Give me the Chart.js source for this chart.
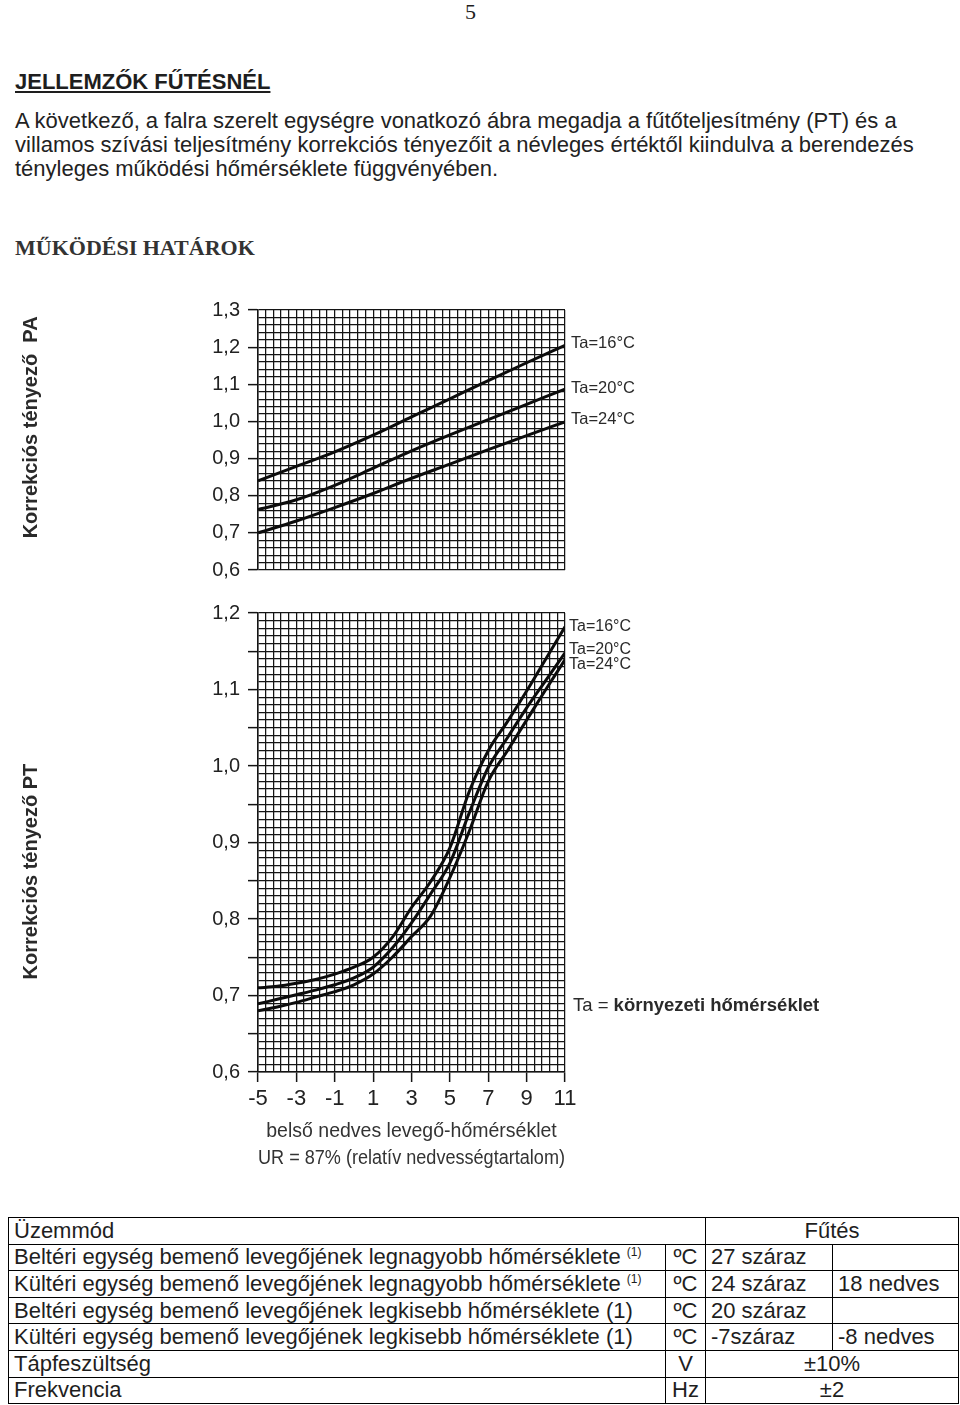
<!DOCTYPE html>
<html><head><meta charset="utf-8">
<script src="https://cdn.jsdelivr.net/npm/chart.js@4.4.0/dist/chart.umd.min.js"></script>
<style>
html,body{margin:0;padding:0;background:#fff;}
#page{position:relative;width:960px;height:1405px;overflow:hidden;font-family:"Liberation Sans",Arial,sans-serif;color:#1e1e1e;}
.abs{position:absolute;white-space:nowrap;}
#pnum{left:465px;top:0px;font-family:"Liberation Serif",serif;font-size:22px;line-height:24px;}
#h1{left:15px;top:70px;font-weight:bold;font-size:22px;line-height:24px;text-decoration:underline;}
#para{left:15px;top:109px;font-size:22px;line-height:24px;color:#222;}
#h2{left:15px;top:236px;font-family:"Liberation Serif",serif;font-weight:bold;font-size:22px;line-height:24px;color:#333;}
#c1{position:absolute;left:0;top:290px;}
#c2{position:absolute;left:0;top:590px;}
#tbl{position:absolute;left:8px;top:1217px;border-collapse:collapse;table-layout:fixed;font-size:22px;color:#1e1e1e;}
#tbl td{border:1px solid #000;height:25.6px;padding:0 5px;white-space:nowrap;line-height:22px;}
#tbl td.c{text-align:center;padding:0;}
#tbl sup{font-size:12px;vertical-align:8px;line-height:0;}
</style>
</head><body>
<div id="page">
  <div id="pnum" class="abs">5</div>
  <div id="h1" class="abs">JELLEMZŐK FŰTÉSNÉL</div>
  <div id="para" class="abs">A következő, a falra szerelt egységre vonatkozó ábra megadja a fűtőteljesítmény (PT) és a<br>villamos szívási teljesítmény korrekciós tényezőit a névleges értéktől kiindulva a berendezés<br>tényleges működési hőmérséklete függvényében.</div>
  <div id="h2" class="abs">MŰKÖDÉSI HATÁROK</div>
  <canvas id="c1" width="960" height="300"></canvas>
  <canvas id="c2" width="960" height="590"></canvas>
  <table id="tbl">
    <colgroup><col style="width:657px"><col style="width:40px"><col style="width:127px"><col style="width:126px"></colgroup>
    <tr><td colspan="2">Üzemmód</td><td colspan="2" class="c">Fűtés</td></tr>
    <tr><td>Beltéri egység bemenő levegőjének legnagyobb hőmérséklete <sup>(1)</sup></td><td class="c">ºC</td><td>27 száraz</td><td></td></tr>
    <tr><td>Kültéri egység bemenő levegőjének legnagyobb hőmérséklete <sup>(1)</sup></td><td class="c">ºC</td><td>24 száraz</td><td>18 nedves</td></tr>
    <tr><td>Beltéri egység bemenő levegőjének legkisebb hőmérséklete (1)</td><td class="c">ºC</td><td>20 száraz</td><td></td></tr>
    <tr><td>Kültéri egység bemenő levegőjének legkisebb hőmérséklete (1)</td><td class="c">ºC</td><td>-7száraz</td><td>-8 nedves</td></tr>
    <tr><td>Tápfeszültség</td><td class="c">V</td><td colspan="2" class="c">±10%</td></tr>
    <tr><td>Frekvencia</td><td class="c">Hz</td><td colspan="2" class="c">±2</td></tr>
  </table>
</div>
<script>
// ---------- data ----------
const seriesNames = ['Ta=16°C', 'Ta=20°C', 'Ta=24°C'];

// top chart: PA correction factor
const topX   = [-5, -3, -1, 1, 3, 5, 7, 9, 11];
const paTa16 = [0.840, 0.879, 0.918, 0.963, 1.012, 1.061, 1.110, 1.158, 1.205];
const paTa20 = [0.763, 0.789, 0.828, 0.874, 0.921, 0.964, 1.005, 1.046, 1.087];
const paTa24 = [0.700, 0.732, 0.768, 0.806, 0.847, 0.885, 0.924, 0.962, 0.999];
const topLabelY = [1.211, 1.088, 1.004];

// bottom chart: PT correction factor
const botX   = [-5, -4, -3, -2, -1, 0, 1, 2, 3, 4, 5, 6, 7, 8, 9, 10, 11];
const ptTa16 = [0.710, 0.712, 0.716, 0.721, 0.728, 0.737, 0.750, 0.776, 0.815, 0.849, 0.893, 0.966, 1.020, 1.058, 1.098, 1.140, 1.182];
const ptTa20 = [0.689, 0.695, 0.701, 0.707, 0.714, 0.723, 0.737, 0.762, 0.795, 0.833, 0.873, 0.938, 0.998, 1.037, 1.076, 1.112, 1.148];
const ptTa24 = [0.680, 0.685, 0.691, 0.698, 0.705, 0.714, 0.728, 0.750, 0.777, 0.804, 0.854, 0.914, 0.980, 1.020, 1.060, 1.100, 1.139];
const botLabelY = [1.182, 1.152, 1.132];

// tick labels
const xTickLabels = [-5, -3, -1, 1, 3, 5, 7, 9, 11];
const topYTickLabels = [0.6, 0.7, 0.8, 0.9, 1.0, 1.1, 1.2, 1.3];
const botYTickLabels = [0.6, 0.7, 0.8, 0.9, 1.0, 1.1, 1.2];
const botYTickMarks = [0.6, 0.65, 0.7, 0.75, 0.8, 0.85, 0.9, 0.95, 1.0, 1.05, 1.1, 1.15, 1.2];

const topYTitle = 'Korrekciós tényező  PA';
const botYTitle = 'Korrekciós tényező PT';
const xTitle = ['belső nedves levegő-hőmérséklet', 'UR = 87% (relatív nedvességtartalom)'];
const noteLabel = ['Ta = ', 'környezeti hőmérséklet'];

// ---------- helpers ----------
const inList = (v, list) => list.some(t => Math.abs(t - v) < 1e-6);
const fmtDec = v => v.toFixed(1).replace('.', ',');
const GRID = '#141414';
const TXT = '#222';
const FONT = '"Liberation Sans", Arial, sans-serif';

function mkData(xs, ys) { return xs.map((x, i) => ({x: x, y: ys[i]})); }
function mkSet(xs, ys, name) {
  return {label: name, data: mkData(xs, ys), borderColor: '#0c0c0c', borderWidth: 3,
          pointRadius: 0, fill: false, cubicInterpolationMode: 'monotone'};
}

const sidePlugin = {
  id: 'sideLabels',
  afterDraw(chart, args, o) {
    const {ctx, chartArea, scales} = chart;
    ctx.save();
    ctx.fillStyle = '#2a2a2a';
    ctx.textAlign = 'left';
    ctx.textBaseline = 'middle';
    ctx.font = o.labelSize + 'px ' + FONT;
    o.labels.forEach((t, i) => {
      ctx.fillText(t, chartArea.right + o.dx, scales.y.getPixelForValue(o.labelY[i]));
    });
    if (o.note) {
      const yy = scales.y.getPixelForValue(o.noteY);
      const x0 = chartArea.right + 8;
      ctx.font = '18.5px ' + FONT;
      ctx.fillText(o.note[0], x0, yy);
      const w = ctx.measureText(o.note[0]).width;
      ctx.font = 'bold 18.5px ' + FONT;
      ctx.fillText(o.note[1], x0 + w, yy);
    }
    // rotated y title
    ctx.font = 'bold 20px ' + FONT;
    ctx.fillStyle = '#2a2a2a';
    ctx.textAlign = 'center';
    ctx.translate(scales.y.left + 11, scales.y.getPixelForValue(o.titleY));
    ctx.rotate(-Math.PI / 2);
    ctx.fillText(o.title, 0, 0);
    ctx.restore();
  }
};

const common = {
  responsive: false, animation: false, maintainAspectRatio: false,
  events: [],
};

// ---------- top chart ----------
new Chart(document.getElementById('c1'), {
  type: 'line',
  data: {datasets: [mkSet(topX, paTa16, seriesNames[0]), mkSet(topX, paTa20, seriesNames[1]), mkSet(topX, paTa24, seriesNames[2])]},
  plugins: [sidePlugin],
  options: Object.assign({}, common, {
    layout: {padding: {left: 20, right: 395, top: 16, bottom: 16}},
    plugins: {
      legend: {display: false}, tooltip: {enabled: false},
      sideLabels: {labels: seriesNames, labelY: topLabelY, labelSize: 16.5, dx: 6, title: topYTitle, titleY: 0.984}
    },
    scales: {
      x: {type: 'linear', min: -5, max: 11,
          ticks: {display: false, stepSize: 0.4, autoSkip: false},
          grid: {color: GRID, lineWidth: 1.25, drawTicks: false},
          border: {display: false},
          afterFit: s => { s.height = 0; }},
      y: {type: 'linear', min: 0.6, max: 1.3,
          ticks: {stepSize: 0.02, autoSkip: false, padding: 8, color: TXT, font: {family: FONT, size: 20},
                  callback: v => inList(v, topYTickLabels) ? fmtDec(v) : ''},
          grid: {color: GRID, lineWidth: 1.25, drawTicks: true, tickLength: 10, tickWidth: 1.5,
                 tickColor: c => inList(c.tick.value, topYTickLabels) ? GRID : 'rgba(0,0,0,0)'},
          border: {display: true, color: GRID, width: 1.5},
          afterFit: s => { s.width = 238; }}
    }
  })
});

// ---------- bottom chart ----------
new Chart(document.getElementById('c2'), {
  type: 'line',
  data: {datasets: [mkSet(botX, ptTa16, seriesNames[0]), mkSet(botX, ptTa20, seriesNames[1]), mkSet(botX, ptTa24, seriesNames[2])]},
  plugins: [sidePlugin],
  options: Object.assign({}, common, {
    layout: {padding: {left: 20, right: 395, top: 23, bottom: 0}},
    plugins: {
      legend: {display: false}, tooltip: {enabled: false},
      sideLabels: {labels: seriesNames, labelY: botLabelY, labelSize: 16, dx: 4, title: botYTitle, titleY: 0.862,
                   note: noteLabel, noteY: 0.687}
    },
    scales: {
      x: {type: 'linear', min: -5, max: 11,
          ticks: {stepSize: 0.4, autoSkip: false, maxRotation: 0, minRotation: 0, padding: 4, color: TXT,
                  font: {family: FONT, size: 22},
                  callback: v => inList(v, xTickLabels) ? String(Math.round(v)) : ''},
          grid: {color: GRID, lineWidth: 1.25, drawTicks: true, tickLength: 10, tickWidth: 1.5,
                 tickColor: c => inList(c.tick.value, xTickLabels) ? GRID : 'rgba(0,0,0,0)'},
          border: {display: true, color: GRID, width: 1.5},
          title: {display: true, text: xTitle, color: '#333', font: {family: FONT, size: 19.5, lineHeight: 1.385},
                  padding: {top: 0, bottom: 7.5}},
          afterFit: s => { s.height = 108; }},
      y: {type: 'linear', min: 0.6, max: 1.2,
          ticks: {stepSize: 0.01, autoSkip: false, padding: 8, color: TXT, font: {family: FONT, size: 20},
                  callback: v => inList(v, botYTickLabels) ? fmtDec(v) : ''},
          grid: {color: GRID, lineWidth: 1.25, drawTicks: true, tickLength: 10, tickWidth: 1.5,
                 tickColor: c => inList(c.tick.value, botYTickMarks) ? GRID : 'rgba(0,0,0,0)'},
          border: {display: true, color: GRID, width: 1.5},
          afterFit: s => { s.width = 238; }}
    }
  })
});
</script>
</body></html>
